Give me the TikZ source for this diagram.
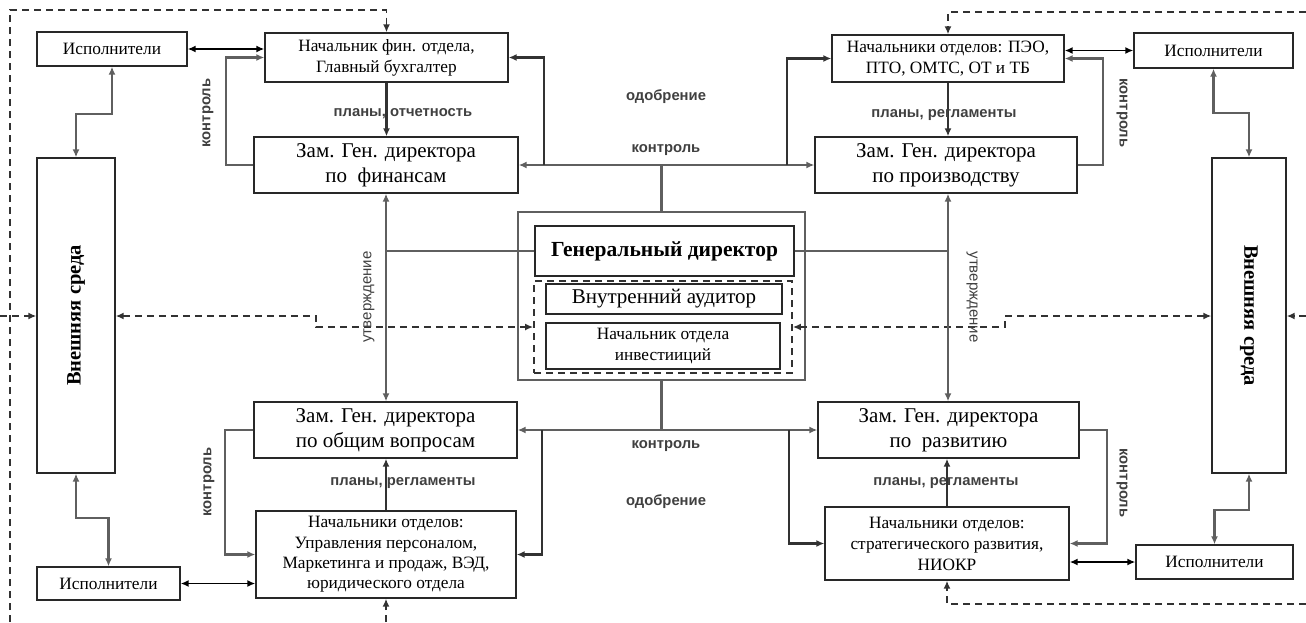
\documentclass[tikz,border=0pt]{standalone}
\usepackage{fontspec}
\setmainfont{Liberation Serif}
\setsansfont{Liberation Sans}
\usetikzlibrary{arrows.meta}
\definecolor{conn}{RGB}{95,95,95}
\definecolor{dk}{RGB}{50,50,50}
\definecolor{lbl}{RGB}{64,64,64}
\definecolor{bord}{RGB}{40,40,40}
\begin{document}
\begin{tikzpicture}[x=1pt,y=-1pt,
 box/.style={draw=bord, line width=1.3pt, inner sep=0pt, align=center, fill=white},
 fs/.style={font=\fontsize{17.3}{21}\selectfont},
 fl/.style={font=\fontsize{21}{25}\selectfont},
 gline/.style={draw=conn, line width=2.2pt},
 garr/.style={gline, -{Latex[length=8pt,width=7pt]}},
 darr/.style={draw=dk, line width=2.2pt, -{Latex[length=8pt,width=7pt]}},
 bidi/.style={draw=black, line width=1.7pt, {Latex[length=8pt,width=7pt]}-{Latex[length=8pt,width=7pt]}},
 gbidi/.style={gline, {Latex[length=8pt,width=7pt]}-{Latex[length=8pt,width=7pt]}},
 dsh/.style={draw=dk, line width=1.7pt, dash pattern=on 7pt off 5pt},
 dsharr/.style={dsh, -{Latex[length=8pt,width=7pt]}},
 dshbi/.style={dsh, {Latex[length=8pt,width=7pt]}-{Latex[length=8pt,width=7pt]}},
 lab/.style={font=\sffamily\bfseries\fontsize{14.8}{17}\selectfont, text=lbl, inner sep=0pt},
 labr/.style={font=\sffamily\fontsize{15}{17}\selectfont, text=lbl, inner sep=0pt},
]
\useasboundingbox (0,0) rectangle (1306,622);

% ---------- boxes ----------
\node[box, fs, minimum width=150pt, minimum height=34pt] (ispTL) at (112,49) {Исполнители};
\node[box, fs, minimum width=243pt, minimum height=49pt] (nachFin) at (386.5,57.5) {Начальник фин. отдела,\\Главный бухгалтер};
\node[box, fl, minimum width=264pt, minimum height=56pt] (zamFin) at (386,165) {Зам. Ген. директора\\по~~финансам};
\node[box, minimum width=78pt, minimum height=315pt] (extL) at (76,315.5) {};
\node[rotate=90, font=\bfseries\fontsize{20.5}{22}\selectfont] (extLt) at (extL.center) {Внешняя среда};
\node[box, fl, minimum width=263pt, minimum height=56pt] (zamObsh) at (385.5,430) {Зам. Ген. директора\\по общим вопросам};
\node[box, fs, minimum width=260pt, minimum height=87pt, font=\fontsize{17.3}{20.3}\selectfont] (nachBL) at (386,554.5) {Начальники отделов:\\Управления персоналом,\\Маркетинга и продаж, ВЭД,\\юридического отдела};
\node[box, fs, minimum width=143pt, minimum height=33pt] (ispBL) at (108.5,583.5) {Исполнители};

\node[draw=conn, line width=1.8pt, minimum width=287pt, minimum height=168pt, inner sep=0pt] (genOuter) at (661.5,296) {};
\node[box, font=\bfseries\fontsize{21.5}{24}\selectfont, minimum width=259pt, minimum height=50pt] (genDir) at (664.5,251) {Генеральный директор};
\node[dsh, minimum width=258pt, minimum height=92pt, inner sep=0pt] (inner) at (663,327) {};
\node[box, fl, minimum width=236pt, minimum height=30pt] (audit) at (664,299) {Внутренний аудитор};
\node[box, fs, minimum width=234pt, minimum height=46pt] (invest) at (663,346) {Начальник отдела\\инвестииций};

\node[box, fs, minimum width=232pt, minimum height=47pt] (nachTR) at (948,58.5) {Начальники отделов: ПЭО,\\ПТО, ОМТС, ОТ и ТБ};
\node[box, fs, minimum width=159pt, minimum height=35pt] (ispTR) at (1213.5,50.5) {Исполнители};
\node[box, fl, minimum width=262pt, minimum height=56pt] (zamProd) at (946,165) {Зам. Ген. директора\\по производству};
\node[box, minimum width=74pt, minimum height=315pt] (extR) at (1249,315.5) {};
\node[rotate=-90, font=\bfseries\fontsize{20.5}{22}\selectfont] (extRt) at (extR.center) {Внешняя среда};
\node[box, fl, minimum width=261pt, minimum height=56pt] (zamRazv) at (948.5,430) {Зам. Ген. директора\\по~~развитию};
\node[box, fs, minimum width=244pt, minimum height=73pt] (nachBR) at (947,543.5) {Начальники отделов:\\стратегического развития,\\НИОКР};
\node[box, fs, minimum width=157pt, minimum height=34pt] (ispBR) at (1214.5,562) {Исполнители};

% ---------- coordinates ----------
\coordinate (dBL) at (10,622);
\coordinate (dTL) at (10,10);
\coordinate (dBot) at (386,622);
\coordinate (dLm) at (0,316);
\coordinate (stepL) at (316,316);
\coordinate (stepR) at (1005,316);
\coordinate (dRm) at (1306,316);
\coordinate (dTR) at (1306,12);
\coordinate (dBR) at (1306,604);
\coordinate (jT) at (661.5,165);
\coordinate (jB) at (661.5,430);
\coordinate (jL) at (386,251);
\coordinate (jR) at (948,251);

% ---------- dashed connectors ----------
\draw[dsharr] (dBL) -- (dTL) -| (nachFin.north);
\draw[dsharr] (dBot) -- (nachBL.south);
\draw[dsharr] (dLm) -- (extL.west |- dLm);
\draw[dshbi] (extL.east |- stepL) -- (stepL) |- (inner.west);
\draw[dshbi] (inner.east) -| (stepR) -- (extR.west |- stepR);
\draw[dsharr] (dRm) -- (extR.east |- dRm);
\draw[dsharr] (dTR) -| (nachTR.north);
\draw[dsharr] (dBR) -| (nachBR.south);

% ---------- top left ----------
\draw[bidi] (ispTL.east) -- (ispTL.east -| nachFin.west);
\draw[gbidi] (ispTL.south) -- ++(0,47) -| (extL.north);
\draw[garr] (zamFin.west) -- ++(-27,0) |- (nachFin.west);
\draw[darr] (nachFin.south) -- (nachFin.south |- zamFin.north);
\draw[gline] (genOuter.north) -- (jT);
\draw[garr] (jT) -- (zamFin.east);
\draw[garr] (jT) -- (zamProd.west);
\draw[darr] (544,165) |- (nachFin.east);
\draw[darr] (787,165) |- (nachTR.west);

% ---------- top right ----------
\draw[bidi] (nachTR.east |- ispTR.west) -- (ispTR.west);
\draw[gbidi] (ispTR.south) -- ++(0,44) -| (extR.north);
\draw[garr] (zamProd.east) -- ++(25,0) |- (nachTR.east);
\draw[darr] (nachTR.south) -- (nachTR.south |- zamProd.north);

% ---------- general director links ----------
\draw[gline] (genDir.west) -- (jL);
\draw[garr] (jL) -- (zamFin.south);
\draw[garr] (jL) -- (jL |- zamObsh.north);
\draw[gline] (genDir.east) -- (jR);
\draw[garr] (jR) -- (jR |- zamProd.south);
\draw[garr] (jR) -- (jR |- zamRazv.north);

% ---------- bottom ----------
\draw[gline] (genOuter.south) -- (jB);
\draw[garr] (jB) -- (zamObsh.east);
\draw[garr] (jB) -- (jB -| zamRazv.west);
\draw[darr] (542,430) |- (nachBL.east);
\draw[darr] (789,430) |- (nachBR.west);
\draw[garr] (zamObsh.west) -- ++(-28,0) |- (nachBL.west);
\draw[garr] (zamRazv.east) -- ++(27,0) |- (nachBR.east);
\draw[darr] (nachBL.north) -- (nachBL.north |- zamObsh.south);
\draw[darr] (nachBR.north) -- (nachBR.north |- zamRazv.south);
\draw[bidi] (ispBL.east) -- (ispBL.east -| nachBL.west);
\draw[bidi] (nachBR.east |- ispBR.west) -- (ispBR.west);
\draw[gbidi] (extL.south) -- ++(0,44) -| (ispBL.north);
\draw[gbidi] (extR.south) -- ++(0,36) -| (ispBR.north);

% ---------- labels ----------
\node[lab, rotate=90] (k1) at (208,113) {контроль};
\node[lab, rotate=-90] (k2) at (1122,113) {контроль};
\node[lab, rotate=90] (k3) at (209,482) {контроль};
\node[lab, rotate=-90] (k4) at (1122,483) {контроль};
\node[lab] (p1) at (403,114) {планы, отчетность};
\node[lab] (p2) at (944,115) {планы, регламенты};
\node[lab] (p3) at (403,483) {планы, регламенты};
\node[lab] (p4) at (946,483) {планы, регламенты};
\node[lab] (o1) at (666,97) {одобрение};
\node[lab] (c1) at (666,150) {контроль};
\node[lab] (c2) at (666,446) {контроль};
\node[lab] (o2) at (666,502) {одобрение};
\node[labr, rotate=90] (u1) at (369,297) {утверждение};
\node[labr, rotate=-90] (u2) at (972,297) {утверждение};
\end{tikzpicture}
\end{document}
